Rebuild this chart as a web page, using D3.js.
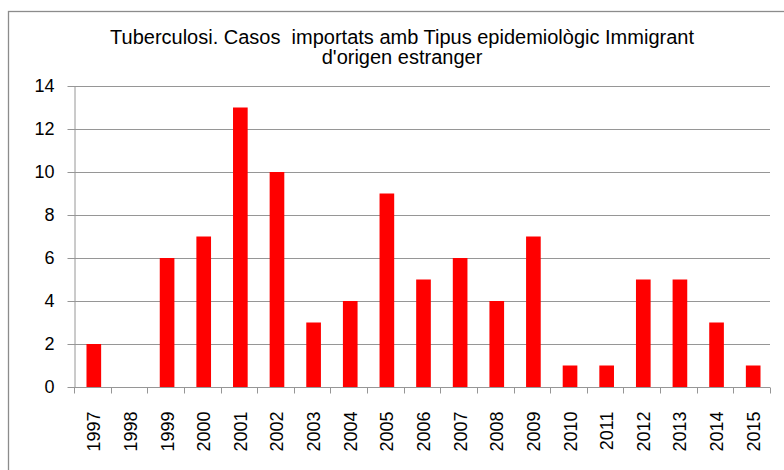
<!DOCTYPE html>
<html>
<head>
<meta charset="utf-8">
<script src="https://cdn.jsdelivr.net/npm/d3@7"></script>
<style>
  body { margin: 0; background: #fff; }
  svg { display: block; font-family: "Liberation Sans", Arial, sans-serif; }
</style>
</head>
<body>
<div id="chart"></div>
<script>
const years = ["1997", "1998", "1999", "2000", "2001", "2002", "2003", "2004", "2005", "2006",
  "2007", "2008", "2009", "2010", "2011", "2012", "2013", "2014", "2015"];
const cases = [2, 0, 6, 7, 13, 10, 3, 4, 9, 5, 6, 4, 7, 1, 1, 5, 5, 3, 1];
const yTicks = [0, 2, 4, 6, 8, 10, 12, 14];
const titleLines = ["Tuberculosi. Casos  importats amb Tipus epidemiològic Immigrant", "d'origen estranger"];

const width = 784, height = 470;
const margin = { top: 86, right: 14, bottom: 83, left: 74 };

const svg = d3.select("#chart").append("svg")
  .attr("width", width)
  .attr("height", height);

// outer chart border (runs off the page at right and bottom)
svg.append("rect")
  .attr("x", 8.5).attr("y", 11.5)
  .attr("width", 800).attr("height", 500)
  .attr("fill", "none")
  .attr("stroke", "#8c8c8c")
  .attr("stroke-width", 1.3);

const x = d3.scaleBand()
  .domain(years)
  .range([margin.left, width - margin.right])
  .paddingInner(0.6)
  .paddingOuter(0.3);

const y = d3.scaleLinear()
  .domain([0, 14])
  .range([height - margin.bottom, margin.top]);

// gridlines
svg.append("g")
  .selectAll("line")
  .data(yTicks.slice(1))
  .join("line")
    .attr("x1", margin.left).attr("x2", width - margin.right)
    .attr("y1", d => Math.round(y(d)) + 0.5).attr("y2", d => Math.round(y(d)) + 0.5)
    .attr("stroke", "#969696");

// bars
svg.append("g")
    .attr("fill", "#ff0000")
  .selectAll("rect")
  .data(cases)
  .join("rect")
    .attr("x", (d, i) => x(years[i]) + 1.5)
    .attr("y", d => y(d))
    .attr("width", x.bandwidth())
    .attr("height", d => y(0) - y(d));

// y axis
const yAxis = svg.append("g")
  .attr("transform", `translate(${margin.left + 0.5},0)`)
  .call(d3.axisLeft(y).tickValues(yTicks).tickSize(7).tickSizeOuter(0).tickPadding(13));
yAxis.selectAll("line, path").attr("stroke", "#969696");
yAxis.selectAll("text")
  .attr("font-size", 18)
  .attr("fill", "#000")
  .attr("font-family", "Liberation Sans, Arial, sans-serif");

// x axis with ticks between categories
const xAxisG = svg.append("g")
  .attr("transform", `translate(0,${Math.round(y(0)) + 0.5})`);
xAxisG.append("line")
  .attr("x1", margin.left).attr("x2", width - margin.right)
  .attr("stroke", "#969696");
const step = (width - margin.left - margin.right) / years.length;
xAxisG.selectAll(".tk")
  .data(d3.range(years.length + 1))
  .join("line")
    .attr("class", "tk")
    .attr("x1", i => Math.round(margin.left + i * step) + 0.5)
    .attr("x2", i => Math.round(margin.left + i * step) + 0.5)
    .attr("y1", 0).attr("y2", 6)
    .attr("stroke", "#969696");
xAxisG.selectAll("text")
  .data(years)
  .join("text")
    .attr("transform", d => `translate(${x(d) + x.bandwidth() / 2 + 8},24) rotate(-90)`)
    .attr("text-anchor", "end")
    .attr("font-size", 18)
    .text(d => d);

// title
svg.append("g")
  .selectAll("text")
  .data(titleLines)
  .join("text")
    .attr("x", 402)
    .attr("y", (d, i) => 44 + i * 20)
    .attr("text-anchor", "middle")
    .attr("font-size", 20)
    .style("white-space", "pre")
    .text(d => d);
</script>
</body>
</html>
